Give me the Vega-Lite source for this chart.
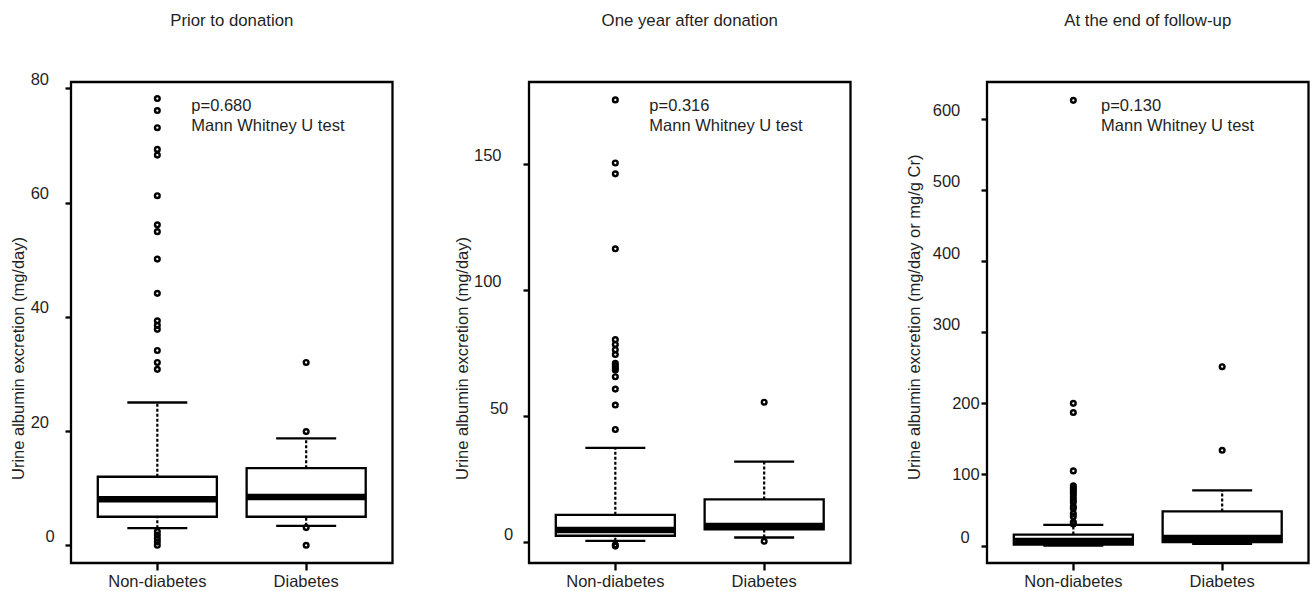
{
  "$schema": "https://vega.github.io/schema/vega-lite/v6.json",
  "background": "white",
  "padding": {"left": 8, "top": 11, "right": 0, "bottom": 0},
  "bounds": "flush",
  "spacing": 136,
  "config": {
    "font": "Liberation Sans",
    "view": {"stroke": "black", "strokeWidth": 2.3, "fill": "white"},
    "axis": {"domain": false, "grid": false, "tickColor": "black", "tickWidth": 2.3, "labelColor": "#1f1f1f", "labelFontSize": 16.5, "labelFont": "Liberation Sans", "titleColor": "#1f1f1f", "titleFontSize": 16.5, "titleFontWeight": "normal", "titleFont": "Liberation Sans"},
    "axisX": {"tickSize": 7, "labelPadding": 3.5, "labelAngle": 0, "title": null},
    "axisY": {"tickSize": 6},
    "title": {"fontSize": 16.8, "fontWeight": "normal", "color": "#1f1f1f", "font": "Liberation Sans", "baseline": "alphabetic"}
  },
  "datasets": {
    "s1": [
      {"group": "Non-diabetes", "lower": 3.0, "q1": 5.0, "median": 8.05, "q3": 12.0, "upper": 25.0},
      {"group": "Diabetes", "lower": 3.4, "q1": 5.0, "median": 8.45, "q3": 13.5, "upper": 18.7}
    ],
    "o1": [
      {"group": "Non-diabetes", "value": 78.2}, {"group": "Non-diabetes", "value": 76.1}, {"group": "Non-diabetes", "value": 73.1},
      {"group": "Non-diabetes", "value": 69.3}, {"group": "Non-diabetes", "value": 68.3}, {"group": "Non-diabetes", "value": 61.2},
      {"group": "Non-diabetes", "value": 56.1}, {"group": "Non-diabetes", "value": 54.9}, {"group": "Non-diabetes", "value": 50.1},
      {"group": "Non-diabetes", "value": 44.1}, {"group": "Non-diabetes", "value": 39.3}, {"group": "Non-diabetes", "value": 38.5},
      {"group": "Non-diabetes", "value": 37.8}, {"group": "Non-diabetes", "value": 34.1}, {"group": "Non-diabetes", "value": 32.0},
      {"group": "Non-diabetes", "value": 30.8}, {"group": "Non-diabetes", "value": 2.4}, {"group": "Non-diabetes", "value": 1.8},
      {"group": "Non-diabetes", "value": 1.2}, {"group": "Non-diabetes", "value": 0.6}, {"group": "Non-diabetes", "value": 0},
      {"group": "Diabetes", "value": 32.0}, {"group": "Diabetes", "value": 19.9}, {"group": "Diabetes", "value": 3.1}, {"group": "Diabetes", "value": 0}
    ],
    "a1": [
      {"group": "Non-diabetes", "value": 76.06, "label": "p=0.680"},
      {"group": "Non-diabetes", "value": 72.56, "label": "Mann Whitney U test"}
    ],
    "s2": [
      {"group": "Non-diabetes", "lower": 0.6, "q1": 2.6, "median": 4.9, "q3": 10.9, "upper": 37.4},
      {"group": "Diabetes", "lower": 1.9, "q1": 5.1, "median": 6.5, "q3": 17.0, "upper": 32.0}
    ],
    "o2": [
      {"group": "Non-diabetes", "value": 175.3}, {"group": "Non-diabetes", "value": 150.3}, {"group": "Non-diabetes", "value": 146.0},
      {"group": "Non-diabetes", "value": 116.3}, {"group": "Non-diabetes", "value": 80.3}, {"group": "Non-diabetes", "value": 78.4},
      {"group": "Non-diabetes", "value": 76.3}, {"group": "Non-diabetes", "value": 74.4}, {"group": "Non-diabetes", "value": 70.9},
      {"group": "Non-diabetes", "value": 70.0}, {"group": "Non-diabetes", "value": 69.1}, {"group": "Non-diabetes", "value": 68.3},
      {"group": "Non-diabetes", "value": 65.6}, {"group": "Non-diabetes", "value": 60.7}, {"group": "Non-diabetes", "value": 54.4},
      {"group": "Non-diabetes", "value": 44.7}, {"group": "Non-diabetes", "value": -1.0}, {"group": "Non-diabetes", "value": -1.5},
      {"group": "Diabetes", "value": 55.5}, {"group": "Diabetes", "value": 0.4}
    ],
    "a2": [
      {"group": "Non-diabetes", "value": 171.0, "label": "p=0.316"},
      {"group": "Non-diabetes", "value": 163.0, "label": "Mann Whitney U test"}
    ],
    "s3": [
      {"group": "Non-diabetes", "lower": 0, "q1": 1.5, "median": 6.5, "q3": 15.5, "upper": 29},
      {"group": "Diabetes", "lower": 2.4, "q1": 5, "median": 10.5, "q3": 48, "upper": 77.5}
    ],
    "o3": [
      {"group": "Non-diabetes", "value": 626}, {"group": "Non-diabetes", "value": 200}, {"group": "Non-diabetes", "value": 187},
      {"group": "Non-diabetes", "value": 105}, {"group": "Non-diabetes", "value": 84}, {"group": "Non-diabetes", "value": 81},
      {"group": "Non-diabetes", "value": 78}, {"group": "Non-diabetes", "value": 75}, {"group": "Non-diabetes", "value": 72},
      {"group": "Non-diabetes", "value": 68}, {"group": "Non-diabetes", "value": 64}, {"group": "Non-diabetes", "value": 61},
      {"group": "Non-diabetes", "value": 55}, {"group": "Non-diabetes", "value": 52}, {"group": "Non-diabetes", "value": 45},
      {"group": "Non-diabetes", "value": 41}, {"group": "Non-diabetes", "value": 33}, {"group": "Non-diabetes", "value": 30.5},
      {"group": "Diabetes", "value": 251.5}, {"group": "Diabetes", "value": 134}
    ],
    "a3": [
      {"group": "Non-diabetes", "value": 611.4, "label": "p=0.130"},
      {"group": "Non-diabetes", "value": 583.3, "label": "Mann Whitney U test"}
    ]
  },
  "hconcat": [
    {
      "title": {"text": "Prior to donation", "offset": 41},
      "width": 321.5,
      "height": 481,
      "encoding": {
        "x": {"field": "group", "type": "nominal", "scale": {"type": "band", "domain": ["Non-diabetes", "Diabetes"], "paddingInner": 0.2, "paddingOuter": 0.18}}
      },
      "layer": [
        {"data": {"name": "s1"}, "mark": {"type": "rule", "strokeDash": [3, 2], "strokeWidth": 2.2, "color": "black"},
         "encoding": {
           "y": {"field": "q3", "type": "quantitative", "scale": {"domain": [-3.1, 81.1], "nice": false, "zero": false},
                 "axis": {"title": "Urine albumin excretion (mg/day)", "values": [0, 20, 40, 60, 80],
                          "labelPadding": {"condition": {"test": "datum.value === 0", "value": 10.7}, "value": 16.5},
                          "labelBaseline": "alphabetic", "labelOffset": -4,
                          "titleX": -47.9, "titleY": 397.5, "titleAlign": "left", "titleAngle": 270, "titleBaseline": "alphabetic"}},
           "y2": {"field": "upper"}}},
        {"data": {"name": "s1"}, "mark": {"type": "rule", "strokeDash": [3, 2], "strokeWidth": 2.2, "color": "black"},
         "encoding": {"y": {"field": "lower", "type": "quantitative"}, "y2": {"field": "q1"}}},
        {"data": {"name": "s1"}, "mark": {"type": "bar", "fill": "white", "stroke": "black", "strokeWidth": 2.3},
         "encoding": {"y": {"field": "q1", "type": "quantitative"}, "y2": {"field": "q3"}}},
        {"data": {"name": "s1"}, "mark": {"type": "tick", "size": 120, "thickness": 6.5, "color": "black", "opacity": 1},
         "encoding": {"y": {"field": "median", "type": "quantitative"}}},
        {"data": {"name": "s1"}, "mark": {"type": "tick", "size": 60, "thickness": 2.3, "color": "black", "opacity": 1},
         "encoding": {"y": {"field": "upper", "type": "quantitative"}}},
        {"data": {"name": "s1"}, "mark": {"type": "tick", "size": 60, "thickness": 2.3, "color": "black", "opacity": 1},
         "encoding": {"y": {"field": "lower", "type": "quantitative"}}},
        {"data": {"name": "o1"}, "mark": {"type": "point", "shape": "circle", "filled": false, "size": 22, "strokeWidth": 2.4, "color": "black", "opacity": 1},
         "encoding": {"y": {"field": "value", "type": "quantitative"}}},
        {"data": {"name": "a1"}, "mark": {"type": "text", "align": "left", "baseline": "alphabetic", "dx": 34, "fontSize": 16.5, "color": "#1f1f1f"},
         "encoding": {"y": {"field": "value", "type": "quantitative"}, "text": {"field": "label"}}}
      ]
    },
    {
      "title": {"text": "One year after donation", "offset": 52.5},
      "width": 321.5,
      "height": 481,
      "encoding": {
        "x": {"field": "group", "type": "nominal", "scale": {"type": "band", "domain": ["Non-diabetes", "Diabetes"], "paddingInner": 0.2, "paddingOuter": 0.18}}
      },
      "layer": [
        {"data": {"name": "s2"}, "mark": {"type": "rule", "strokeDash": [3, 2], "strokeWidth": 2.2, "color": "black"},
         "encoding": {
           "y": {"field": "q3", "type": "quantitative", "scale": {"domain": [-8.2, 182.4], "nice": false, "zero": false},
                 "axis": {"title": "Urine albumin excretion (mg/day)", "values": [0, 50, 100, 150],
                          "labelPadding": {"condition": [{"test": "datum.value === 0", "value": 10.2}, {"test": "datum.value === 50", "value": 15.2}], "value": 22},
                          "labelBaseline": "alphabetic", "labelOffset": -3,
                          "titleX": -61.6, "titleY": 397.5, "titleAlign": "left", "titleAngle": 270, "titleBaseline": "alphabetic"}},
           "y2": {"field": "upper"}}},
        {"data": {"name": "s2"}, "mark": {"type": "rule", "strokeDash": [3, 2], "strokeWidth": 2.2, "color": "black"},
         "encoding": {"y": {"field": "lower", "type": "quantitative"}, "y2": {"field": "q1"}}},
        {"data": {"name": "s2"}, "mark": {"type": "bar", "fill": "white", "stroke": "black", "strokeWidth": 2.3},
         "encoding": {"y": {"field": "q1", "type": "quantitative"}, "y2": {"field": "q3"}}},
        {"data": {"name": "s2"}, "mark": {"type": "tick", "size": 120, "thickness": 6.5, "color": "black", "opacity": 1},
         "encoding": {"y": {"field": "median", "type": "quantitative"}}},
        {"data": {"name": "s2"}, "mark": {"type": "tick", "size": 60, "thickness": 2.3, "color": "black", "opacity": 1},
         "encoding": {"y": {"field": "upper", "type": "quantitative"}}},
        {"data": {"name": "s2"}, "mark": {"type": "tick", "size": 60, "thickness": 2.3, "color": "black", "opacity": 1},
         "encoding": {"y": {"field": "lower", "type": "quantitative"}}},
        {"data": {"name": "o2"}, "mark": {"type": "point", "shape": "circle", "filled": false, "size": 22, "strokeWidth": 2.4, "color": "black", "opacity": 1},
         "encoding": {"y": {"field": "value", "type": "quantitative"}}},
        {"data": {"name": "a2"}, "mark": {"type": "text", "align": "left", "baseline": "alphabetic", "dx": 34, "fontSize": 16.5, "color": "#1f1f1f"},
         "encoding": {"y": {"field": "value", "type": "quantitative"}, "text": {"field": "label"}}}
      ]
    },
    {
      "title": {"text": "At the end of follow-up", "offset": 52.5},
      "width": 321.5,
      "height": 481,
      "encoding": {
        "x": {"field": "group", "type": "nominal", "scale": {"type": "band", "domain": ["Non-diabetes", "Diabetes"], "paddingInner": 0.2, "paddingOuter": 0.18}}
      },
      "layer": [
        {"data": {"name": "s3"}, "mark": {"type": "rule", "strokeDash": [3, 2], "strokeWidth": 2.2, "color": "black"},
         "encoding": {
           "y": {"field": "q3", "type": "quantitative", "scale": {"domain": [-24.5, 651.8], "nice": false, "zero": false},
                 "axis": {"title": "Urine albumin excretion (mg/day or mg/g Cr)", "values": [0, 100, 200, 300, 400, 500, 600],
                          "labelPadding": {"condition": [{"test": "datum.value === 0", "value": 11.8}, {"test": "datum.value === 100 || datum.value === 200", "value": 1.8}], "value": 21.2},
                          "labelBaseline": {"condition": {"test": "datum.value === 100 || datum.value === 200", "value": "middle"}, "value": "alphabetic"},
                          "labelOffset": {"condition": {"test": "datum.value === 100 || datum.value === 200", "value": 0}, "value": -3},
                          "titleX": -67.5, "titleY": 397.5, "titleAlign": "left", "titleAngle": 270, "titleBaseline": "alphabetic"}},
           "y2": {"field": "upper"}}},
        {"data": {"name": "s3"}, "mark": {"type": "rule", "strokeDash": [3, 2], "strokeWidth": 2.2, "color": "black"},
         "encoding": {"y": {"field": "lower", "type": "quantitative"}, "y2": {"field": "q1"}}},
        {"data": {"name": "s3"}, "mark": {"type": "bar", "fill": "white", "stroke": "black", "strokeWidth": 2.3},
         "encoding": {"y": {"field": "q1", "type": "quantitative"}, "y2": {"field": "q3"}}},
        {"data": {"name": "s3"}, "mark": {"type": "tick", "size": 120, "thickness": 6.5, "color": "black", "opacity": 1},
         "encoding": {"y": {"field": "median", "type": "quantitative"}}},
        {"data": {"name": "s3"}, "mark": {"type": "tick", "size": 60, "thickness": 2.3, "color": "black", "opacity": 1},
         "encoding": {"y": {"field": "upper", "type": "quantitative"}}},
        {"data": {"name": "s3"}, "mark": {"type": "tick", "size": 60, "thickness": 2.3, "color": "black", "opacity": 1},
         "encoding": {"y": {"field": "lower", "type": "quantitative"}}},
        {"data": {"name": "o3"}, "mark": {"type": "point", "shape": "circle", "filled": false, "size": 22, "strokeWidth": 2.4, "color": "black", "opacity": 1},
         "encoding": {"y": {"field": "value", "type": "quantitative"}}},
        {"data": {"name": "a3"}, "mark": {"type": "text", "align": "left", "baseline": "alphabetic", "dx": 27.7, "fontSize": 16.5, "color": "#1f1f1f"},
         "encoding": {"y": {"field": "value", "type": "quantitative"}, "text": {"field": "label"}}}
      ]
    }
  ]
}
